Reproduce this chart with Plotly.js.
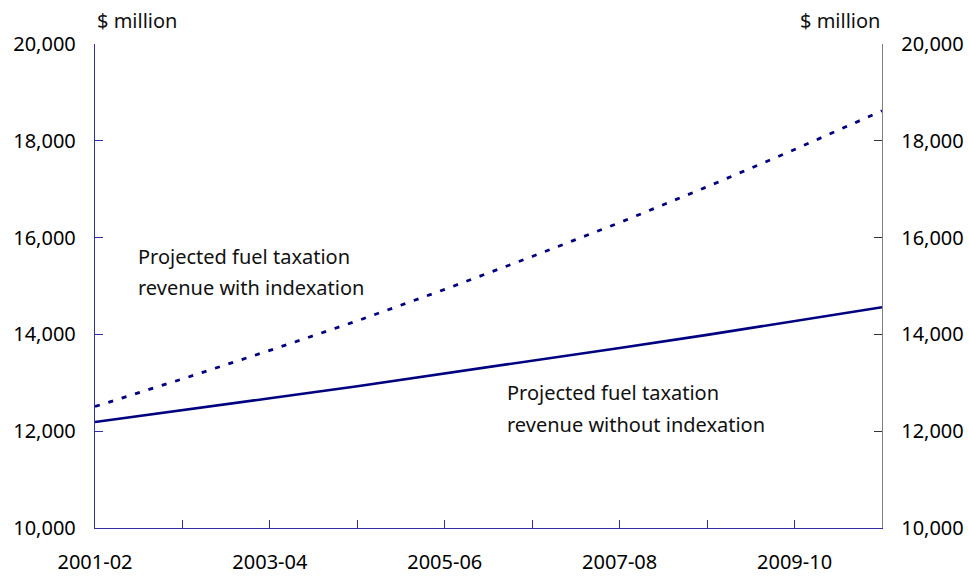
<!DOCTYPE html>
<html>
<head>
<meta charset="utf-8">
<script src="https://cdn.plot.ly/plotly-3.0.1.min.js"></script>
<style>html,body{margin:0;padding:0;background:#fff;}#chart{width:969px;height:576px;}</style>
</head>
<body>
<div id="chart"></div>
<script>
const years = ["2001-02","2002-03","2003-04","2004-05","2005-06","2006-07","2007-08","2008-09","2009-10","2010-11"];
const tickLabels = ["2001-02","","2003-04","","2005-06","","2007-08","","2009-10",""];
const withIndexation = [12510, 13080, 13670, 14280, 14930, 15610, 16310, 17050, 17820, 18620];
const withoutIndexation = [12190, 12430, 12680, 12930, 13190, 13450, 13720, 13990, 14270, 14560];
const yTicks = [10000, 12000, 14000, 16000, 18000, 20000];
const yTickText = ["10,000","12,000","14,000","16,000","18,000","20,000"];
const labelWith = ["Projected fuel taxation", "revenue with indexation"];
const labelWithout = ["Projected fuel taxation", "revenue without indexation"];

const FONT = "Noto Sans, DejaVu Sans, sans-serif";
const NAVY = "#000080";

const traces = [
  {x: years, y: withoutIndexation, type: "scatter", mode: "lines",
   line: {color: NAVY, width: 2.6}, xaxis: "x", yaxis: "y", hoverinfo: "skip"},
  {x: years, y: withIndexation, type: "scatter", mode: "lines",
   line: {color: NAVY, width: 2.8, dash: "5px,9px"}, xaxis: "x", yaxis: "y2", hoverinfo: "skip"}
];

const yCommon = {
  range: [10000, 20000], tickvals: yTicks, ticktext: yTickText,
  ticks: "inside", ticklen: 8, tickwidth: 1, showgrid: false, zeroline: false,
  showline: true, linewidth: 1.2, tickfont: {family: FONT, size: 20, color: "#000"},
  fixedrange: true
};

function py(pix) { return (528 - pix) / 484; }
function px(pix) { return (pix - 95) / 787; }
const textFont = {family: FONT, size: 20, color: "#111"};

const annotations = [
  {xref: "paper", yref: "paper", x: 0.0, y: 1.0, yshift: 24, xanchor: "left", yanchor: "middle",
   text: "$ million", showarrow: false, font: textFont},
  {xref: "paper", yref: "paper", x: 1.0, y: 1.0, yshift: 24, xanchor: "right", yanchor: "middle",
   text: "$ million", showarrow: false, font: textFont}
];
[256, 287].forEach((yy, i) => annotations.push({xref: "paper", yref: "paper", x: px(136), y: py(yy),
  xanchor: "left", yanchor: "middle", text: labelWith[i], showarrow: false, font: textFont}));
[392, 424].forEach((yy, i) => annotations.push({xref: "paper", yref: "paper", x: px(505), y: py(yy),
  xanchor: "left", yanchor: "middle", text: labelWithout[i], showarrow: false, font: textFont}));

const layout = {
  width: 969, height: 576,
  margin: {l: 95, r: 87, t: 44, b: 48},
  paper_bgcolor: "#fff", plot_bgcolor: "#fff",
  showlegend: false,
  font: {family: FONT, size: 20, color: "#000"},
  xaxis: {
    type: "category", range: [0, 9], tickvals: years, ticktext: tickLabels,
    ticks: "inside", ticklen: 8, tickwidth: 1, tickcolor: "#3030a0",
    showline: true, linecolor: "#3030a0", linewidth: 1.2, showgrid: false, zeroline: false,
    tickfont: {family: FONT, size: 20, color: "#000"}, ticklabelstandoff: 16
  },
  yaxis: Object.assign({}, yCommon, {side: "left", linecolor: "#3030a0", tickcolor: "#3030a0", ticklabelstandoff: 14}),
  yaxis2: Object.assign({}, yCommon, {side: "right", overlaying: "y", linecolor: "#808080", tickcolor: "#333", ticklabelstandoff: 14}),
  annotations: annotations
};

Plotly.newPlot("chart", traces, layout, {displayModeBar: false, staticPlot: true});
</script>
</body>
</html>
